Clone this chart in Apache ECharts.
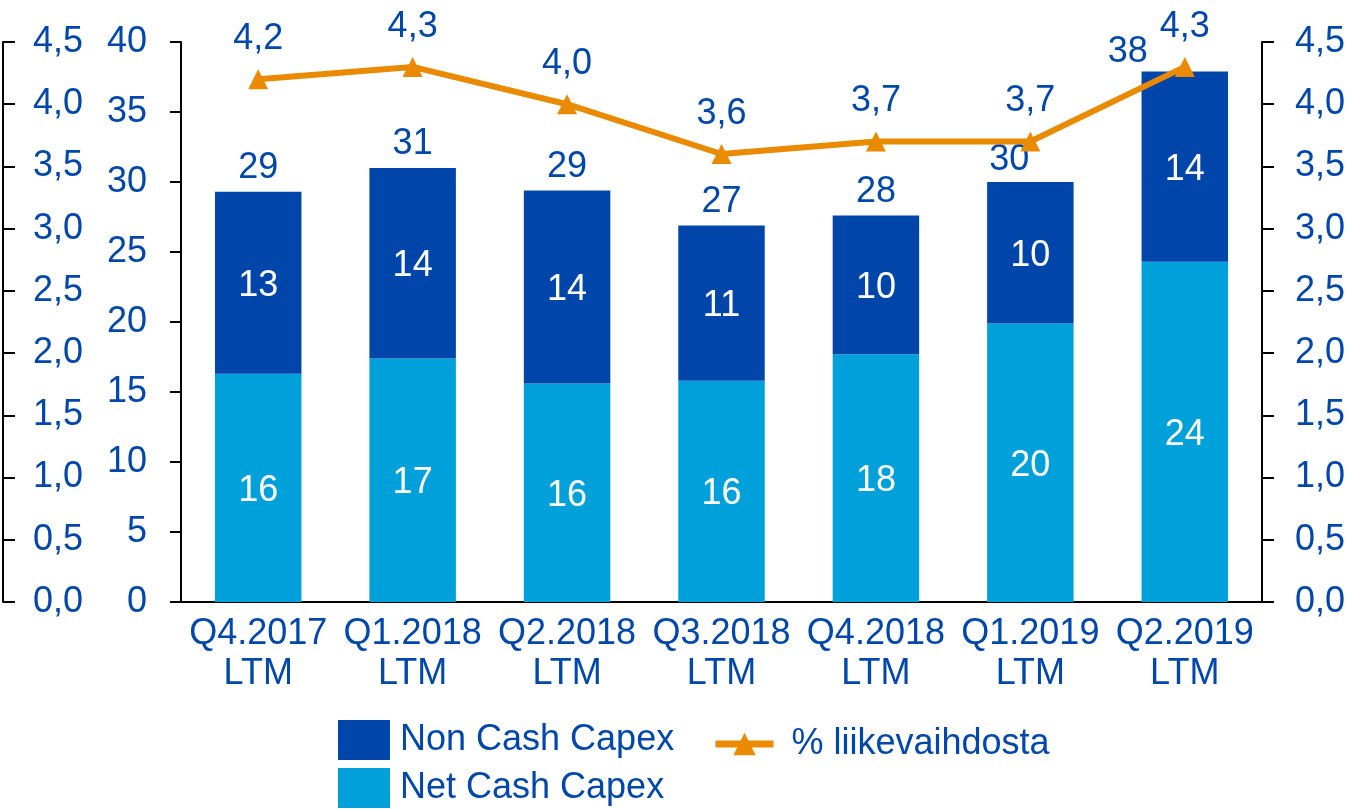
<!DOCTYPE html>
<html><head><meta charset="utf-8">
<script src="https://cdn.jsdelivr.net/npm/echarts@6/dist/echarts.min.js"></script>
<style>html,body{margin:0;padding:0;background:#fff}#c{width:1355px;height:809px}</style>
</head><body><div id="c"></div>
<script>
const categories = ['Q4.2017\nLTM','Q1.2018\nLTM','Q2.2018\nLTM','Q3.2018\nLTM','Q4.2018\nLTM','Q1.2019\nLTM','Q2.2019\nLTM'];
const netCash = [16.3, 17.4, 15.6, 15.8, 17.7, 19.9, 24.3];
const nonCash = [13.0, 13.6, 13.8, 11.1, 9.9, 10.1, 13.6];
const totals = [29.3, 31.0, 29.4, 26.9, 27.6, 30.0, 37.9];
const pct = [4.2, 4.3, 4.0, 3.6, 3.7, 3.7, 4.3];
const totalLabelOffsets = [[0,0],[0,0],[0,0],[0,0],[0,0],[-21,2],[-57,4]];

const BLUE_TXT = '#0047AB';
const DARK = '#0046AA';
const LIGHT = '#00A0DA';
const ORANGE = '#E98A00';
const FONT = 'Liberation Sans, Arial, sans-serif';
const FS = 36;
const comma = v => Number(v).toFixed(1).replace('.', ',');

const chart = echarts.init(document.getElementById('c'));
const axisLine = {show:true, lineStyle:{color:'#000', width:2}};
chart.setOption({
  animation:false,
  textStyle:{fontFamily:FONT},
  grid:{left:181, right:93, top:42, bottom:207},
  legend:[
    {data:[{name:'Non Cash Capex', icon:'rect'}], left:338, top:720, itemWidth:52, itemHeight:40, padding:0,
     textStyle:{fontSize:FS, color:BLUE_TXT, fontFamily:FONT, padding:[0,0,0,5]}},
    {data:['% liikevaihdosta'], left:712, top:726, itemWidth:58, itemHeight:28, padding:0,
     lineStyle:{width:7}, 
     textStyle:{fontSize:FS, color:BLUE_TXT, fontFamily:FONT, padding:[0,0,0,13]}},
    {data:[{name:'Net Cash Capex', icon:'rect'}], left:338, top:768, itemWidth:52, itemHeight:40, padding:0,
     textStyle:{fontSize:FS, color:BLUE_TXT, fontFamily:FONT, padding:[0,0,0,5]}}
  ],
  xAxis:{type:'category', data:categories, axisLine:axisLine, axisTick:{show:false},
    axisLabel:{fontSize:FS, color:BLUE_TXT, fontFamily:FONT, lineHeight:40, margin:12, interval:0}},
  yAxis:[
    {type:'value', min:0, max:40, interval:5, position:'left', axisLine:axisLine,
     axisTick:{show:true, length:11, lineStyle:{color:'#000', width:2}}, splitLine:{show:false},
     axisLabel:{fontSize:FS, color:BLUE_TXT, fontFamily:FONT, margin:34}},
    {type:'value', min:0, max:4.5, interval:0.5, position:'left', offset:178, axisLine:axisLine,
     axisTick:{show:true, inside:true, length:12, lineStyle:{color:'#000', width:2}}, splitLine:{show:false},
     axisLabel:{inside:true, fontSize:FS, color:BLUE_TXT, fontFamily:FONT, margin:30, formatter:comma}},
    {type:'value', min:0, max:4.5, interval:0.5, position:'right', axisLine:axisLine,
     axisTick:{show:true, length:12, lineStyle:{color:'#000', width:2}}, splitLine:{show:false},
     axisLabel:{fontSize:FS, color:BLUE_TXT, fontFamily:FONT, margin:33, formatter:comma}}
  ],
  series:[
    {name:'Net Cash Capex', type:'bar', stack:'capex', yAxisIndex:0, barWidth:'56%', data:netCash,
     itemStyle:{color:LIGHT},
     label:{show:true, position:'inside', offset:[0,3], color:'#fff', fontSize:FS, fontFamily:FONT, formatter:p=>Math.round(p.value)}},
    {name:'Non Cash Capex', type:'bar', stack:'capex', yAxisIndex:0, barWidth:'56%', data:nonCash,
     itemStyle:{color:DARK},
     label:{show:true, position:'inside', offset:[0,3], color:'#fff', fontSize:FS, fontFamily:FONT, formatter:p=>Math.round(p.value)}},
    {name:'totals', type:'line', yAxisIndex:0, silent:true, z:5,
     data:totals.map((v,i)=>({value:v, label:{offset:totalLabelOffsets[i]}})),
     symbol:'circle', symbolSize:1, itemStyle:{color:'rgba(0,0,0,0)'}, lineStyle:{opacity:0},
     label:{show:true, position:'top', distance:5, color:BLUE_TXT, fontSize:FS, fontFamily:FONT, formatter:p=>Math.round(p.value)}},
    {name:'% liikevaihdosta', type:'line', yAxisIndex:2, data:pct, z:10,
     symbol:'triangle', symbolSize:20, lineStyle:{color:ORANGE, width:6}, itemStyle:{color:ORANGE},
     label:{show:true, position:'top', distance:12, color:BLUE_TXT, fontSize:FS, fontFamily:FONT, formatter:p=>comma(p.value)}}
  ]
});
</script></body></html>
